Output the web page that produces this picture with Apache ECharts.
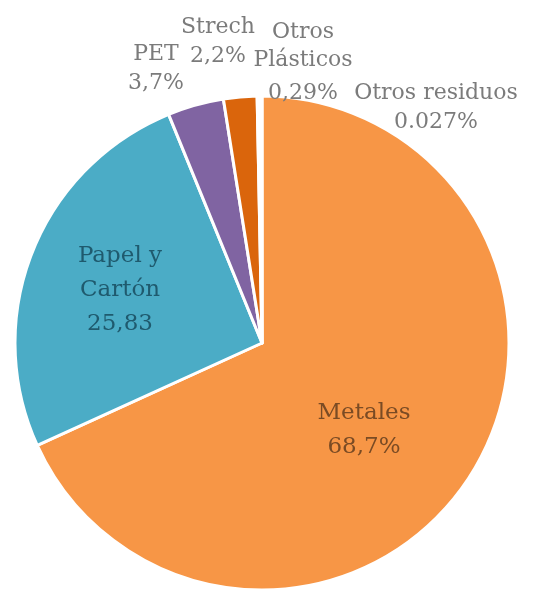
<!DOCTYPE html>
<html>
<head>
<meta charset="utf-8">
<script src="https://cdn.jsdelivr.net/npm/echarts@6/dist/echarts.min.js"></script>
<style>
  html, body { margin: 0; padding: 0; background: #ffffff; }
  #chart { width: 553px; height: 591px; }
</style>
</head>
<body>
<div id="chart"></div>
<script>
// ---- data ----
const categories = ['Metales', 'Papel y Cartón', 'PET', 'Strech', 'Otros Plásticos', 'Otros residuos'];
const values = [68.7, 25.83, 3.7, 2.2, 0.29, 0.027];
const labelNames = ['Metales', 'Papel y\nCartón', 'PET', 'Strech', 'Otros\nPlásticos', 'Otros residuos'];
const valueLabels = ['68,7%', '25,83', '3,7%', '2,2%', '0,29%', '0.027%'];

// ---- styling / layout ----
const sliceColors = ['#F79646', '#4BACC6', '#8064A2', '#DA650C', '#FFFFFF', '#FFFFFF'];
const labelAnchors = [[364, 430], [120, 290], [156, 69], [218, 42], [303, 60], [436, 108]];
const serif = '"DejaVu Serif", "Liberation Serif", serif';

const chart = echarts.init(document.getElementById('chart'));

const data = categories.map((c, i) => {
  const inside = i < 2;
  const item = {
    name: c,
    value: values[i],
    itemStyle: { color: sliceColors[i] },
    label: {
      show: true,
      position: inside ? 'inside' : 'outside',
      color: i === 0 ? '#7A4B24' : (i === 1 ? '#1F5A6E' : '#7B7B7B'),
      fontSize: inside ? 23 : 22,
      lineHeight: inside ? 34 : 29,
      fontFamily: serif,
      align: 'center'
    }
  };
  if (i === 4) {
    item.label.formatter = () => '{a|' + labelNames[i] + '}\n{b|' + valueLabels[i] + '}';
    item.label.rich = {
      a: { fontFamily: serif, fontSize: 22, lineHeight: 28, color: '#7B7B7B', align: 'center' },
      b: { fontFamily: serif, fontSize: 22, lineHeight: 28, color: '#7B7B7B', align: 'center', padding: [10, 0, 0, 0] }
    };
  } else {
    item.label.formatter = () => labelNames[i] + '\n' + valueLabels[i];
  }
  return item;
});

chart.setOption({
  animation: false,
  backgroundColor: '#ffffff',
  series: [{
    type: 'pie',
    center: [262, 343],
    radius: [0, 247],
    startAngle: 90,
    clockwise: true,
    avoidLabelOverlap: false,
    itemStyle: { borderColor: '#ffffff', borderWidth: 3 },
    labelLine: { show: false },
    labelLayout: function (params) {
      const p = labelAnchors[params.dataIndex];
      return { x: p[0], y: p[1], align: 'center', verticalAlign: 'middle' };
    },
    data: data
  }]
});
</script>
</body>
</html>
